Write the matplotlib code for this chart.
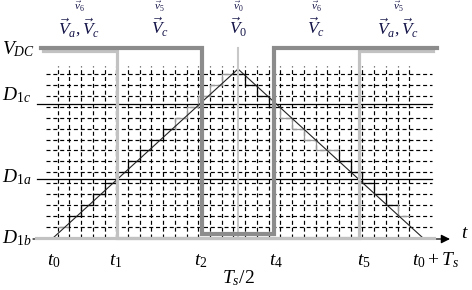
import numpy as np
import matplotlib
matplotlib.use("Agg")
import matplotlib.pyplot as plt

plt.rcParams["mathtext.fontset"] = "custom"
plt.rcParams["mathtext.rm"] = "Liberation Serif"
plt.rcParams["mathtext.it"] = "Liberation Serif:italic"
plt.rcParams["mathtext.bf"] = "Liberation Serif:bold"
plt.rcParams["font.family"] = ["Liberation Serif", "DejaVu Serif"]

# ---------------- data ----------------
switch_labels = [r"$t_0$", r"$t_1$", r"$t_2$", r"$t_4$", r"$t_5$", r"$t_0+T_s$"]
switch_times = [0.0, 0.173, 0.403, 0.597, 0.827, 1.0]
half_time = 0.5
half_label = r"$T_s/2$"

level_names = [r"$D_{1b}$", r"$D_{1a}$", r"$D_{1c}$", r"$V_{DC}$"]
level_values = [0.0, 0.35, 0.79, 1.13]

carrier_t = [0.0, 0.5, 1.0]
carrier_d = [0.0, 1.0, 0.0]

# switching states (1 = high) over the edges of the period
edge_t = [-0.032, 1.038]
phase_a_state = [1, 0, 1]        # high: t0..t1, low: t1..t5, high: t5..Ts
phase_c_state = [1, 0, 1]        # high: t0..t2, low: t2..t4, high: t4..Ts

vector_top = [r"$\vec{v}_6$", r"$\vec{v}_5$", r"$\vec{v}_0$", r"$\vec{v}_6$", r"$\vec{v}_5$"]
vector_bottom = [r"$\vec{V}_a,\vec{V}_c$", r"$\vec{V}_c$", r"$\vec{V}_0$",
                 r"$\vec{V}_c$", r"$\vec{V}_a,\vec{V}_c$"]

# sampling grid: columns and rows
n_cols = 31
n_rows = 15

# ---------------- figure ----------------
W, H = 472, 290
fig = plt.figure(figsize=(W / 100, H / 100), dpi=100)
ax = fig.add_axes([0, 0, 1, 1])
X0, XS = 53.0, 370.0   # pixel of t0, pixels per Ts
Y0, YS = 238.0, 169.0  # pixel of D=0, pixels per unit
ax.set_xlim(-X0 / XS, (W - X0) / XS)
ax.set_ylim((Y0 - H) / YS, Y0 / YS)
ax.axis("off")

def X(px):
    return (px - X0) / XS

def Y(py):
    return (Y0 - py) / YS

# grid
col_t = X(57.7 + 11.72 * np.arange(n_cols))
row_d = Y(227.0 - 10.93 * np.arange(n_rows))
dash = (0, (3.4, 2.4))
for ct in col_t:
    ax.plot([ct, ct], [Y(238), Y(66)], color="black", lw=0.85, ls=dash, zorder=1)
for rd in row_d:
    ax.plot([X(46), X(432)], [rd, rd], color="black", lw=0.85, ls=dash, zorder=1)

# comparison levels D1a, D1c
for v in level_values[1:3]:
    ax.plot([X(37), X(432)], [v, v], color="black", lw=0.9, zorder=2)

# staircase (sampled carrier)
gray_spans = [(0.0, 0.05), (0.33, 0.48), (0.60, 0.76), (0.93, 1.0)]
prev = None
for i in range(n_cols - 1):
    a, b = col_t[i], col_t[i + 1]
    mid = 0.5 * (a + b)
    dv = np.interp(mid, carrier_t, carrier_d)
    j = int(np.argmin(np.abs(row_d - dv)))
    r = row_d[j]
    col = "#999999" if any(lo <= mid <= hi for lo, hi in gray_spans) else "black"
    xs, ys = [a, b], [r, r]
    if prev is not None:
        xs = [a] + xs
        ys = [prev] + ys
    ax.plot(xs, ys, color=col, lw=0.9, zorder=3)
    prev = r

# carrier
ax.plot(carrier_t, carrier_d, color="#222222", lw=0.8, zorder=4)

# axis with arrow
ax.annotate("", xy=(X(450), Y(239)), xytext=(X(33), Y(239)),
            arrowprops=dict(arrowstyle="-|>", color="black", lw=0.9,
                            mutation_scale=13, shrinkA=0, shrinkB=0), zorder=5)

# waveforms
hi_c, lo_c = level_values[3] - 0.003, Y(233.5)
hi_a, lo_a = Y(50.5), 0.0
ta = [edge_t[0] + 0.005, switch_times[1], switch_times[1], switch_times[4], switch_times[4], edge_t[1] - 0.011]
da = [hi_a if phase_a_state[0] else lo_a] * 2 + [hi_a if phase_a_state[1] else lo_a] * 2 + [hi_a if phase_a_state[2] else lo_a] * 2
ax.plot(ta, da, color="#c2c2c2", lw=2.3, zorder=6, solid_joinstyle="miter")
ax.plot([X(36), X(434)], [0, 0], color="#c2c2c2", lw=2.3, zorder=6)
tc = [edge_t[0], switch_times[2], switch_times[2], switch_times[3], switch_times[3], edge_t[1]]
dc = [hi_c if phase_c_state[0] else lo_c] * 2 + [hi_c if phase_c_state[1] else lo_c] * 2 + [hi_c if phase_c_state[2] else lo_c] * 2
ax.plot(tc, dc, color="#8c8c8c", lw=3.0, zorder=7, solid_joinstyle="miter")
ax.plot([half_time, half_time], [0, Y(48)], color="#c8c8c8", lw=1.5, zorder=5)

# level labels
label_base = [243, 182, 100, 54]
for name, yb in zip(level_names, label_base):
    ax.text(X(2), Y(yb), name, fontsize=14, ha="left", va="baseline", color="black")

# time labels
time_px = [54, 116, 201, 276, 364, 436]
for lab, px in zip(switch_labels, time_px):
    ax.text(X(px), Y(265), lab, fontsize=14, ha="center", va="baseline")
ax.text(half_time, Y(283), half_label, fontsize=14, ha="center", va="baseline")
ax.text(X(461), Y(238), r"$t$", fontsize=14, ha="left", va="baseline")

# vector labels
bounds = [edge_t[0]] + [switch_times[1], switch_times[2], switch_times[3], switch_times[4]] + [edge_t[1]]
for k in range(5):
    c = 0.5 * (bounds[k] + bounds[k + 1])
    ax.text(c, Y(11), vector_top[k], fontsize=8, ha="center", va="baseline", color="#141448")
    ax.text(c, Y(35), vector_bottom[k], fontsize=12.5, ha="center", va="baseline", color="#141448")

fig.savefig("out.png", dpi=100)
